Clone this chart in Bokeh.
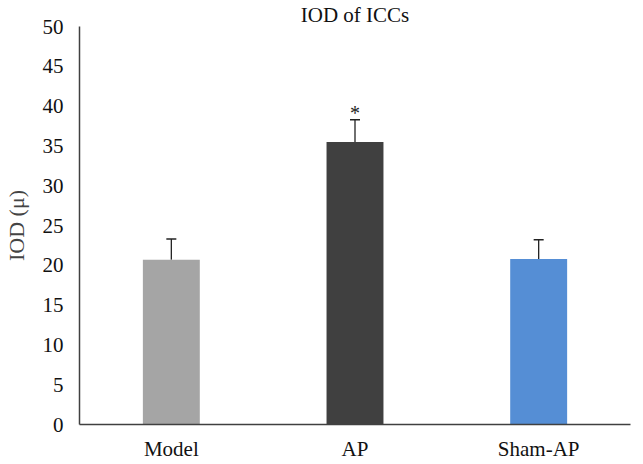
from bokeh.plotting import figure
from bokeh.models import ColumnDataSource, Whisker, TeeHead, Range1d, FixedTicker
from bokeh.core.properties import value as V
from bokeh.embed import file_html
from bokeh.resources import INLINE

categories = ["Model", "AP", "Sham-AP"]
values = [20.7, 35.5, 20.8]
err_upper = [23.3, 38.3, 23.2]
colors = ["#A5A5A5", "#404040", "#558ED5"]
y_ticks = [0, 5, 10, 15, 20, 25, 30, 35, 40, 45, 50]
title_text = "IOD of ICCs"
y_label = "IOD (μ)"
star = "*"

FONT = "Liberation Serif"

src = ColumnDataSource(dict(cat=categories, val=values, up=err_upper, color=colors))

p = figure(x_range=categories, y_range=Range1d(0, 50), frame_width=551, frame_height=398,
           output_backend="svg", toolbar_location=None,
           min_border_left=71, min_border_right=5, min_border_top=0, min_border_bottom=31)
p.outline_line_color = None
p.xgrid.grid_line_color = None
p.ygrid.grid_line_color = None
p.x_range.range_padding = 0

p.title.text = title_text
p.title.align = "center"
p.title.text_font = FONT
p.title.text_font_size = "21px"
p.title.text_font_style = "normal"
p.title.text_color = "#111111"
p.title.standoff = 0

p.vbar(x="cat", top="val", width=0.31, color="color", line_color=None, source=src)

w = Whisker(base="cat", lower="val", upper="up", source=src, line_color="#222222", line_width=1.3,
            lower_head=None, upper_head=TeeHead(size=10, line_color="#222222", line_width=1.5))
p.add_layout(w)

p.text(x=[categories[1]], y=[err_upper[1]], text=[star], text_font=V(FONT), text_font_size="20px",
       text_align="center", text_baseline="middle", y_offset=-7, text_color="#222222")

p.yaxis.ticker = FixedTicker(ticks=y_ticks)
p.yaxis.axis_label = y_label
p.yaxis.axis_label_text_font = FONT
p.yaxis.axis_label_text_font_style = "normal"
p.yaxis.axis_label_text_font_size = "22px"
p.yaxis.axis_label_standoff = 11
for ax in (p.xaxis, p.yaxis):
    ax.major_tick_line_color = None
    ax.minor_tick_line_color = None
    ax.axis_line_color = "#404040"
    ax.axis_line_width = 1.5
    ax.major_label_text_font = FONT
    ax.major_label_text_font_size = "21px"
    ax.major_label_text_color = "#111111"
p.yaxis.major_label_standoff = 10
p.xaxis.major_label_standoff = 6

open("out.html", "w").write(file_html(p, INLINE))
